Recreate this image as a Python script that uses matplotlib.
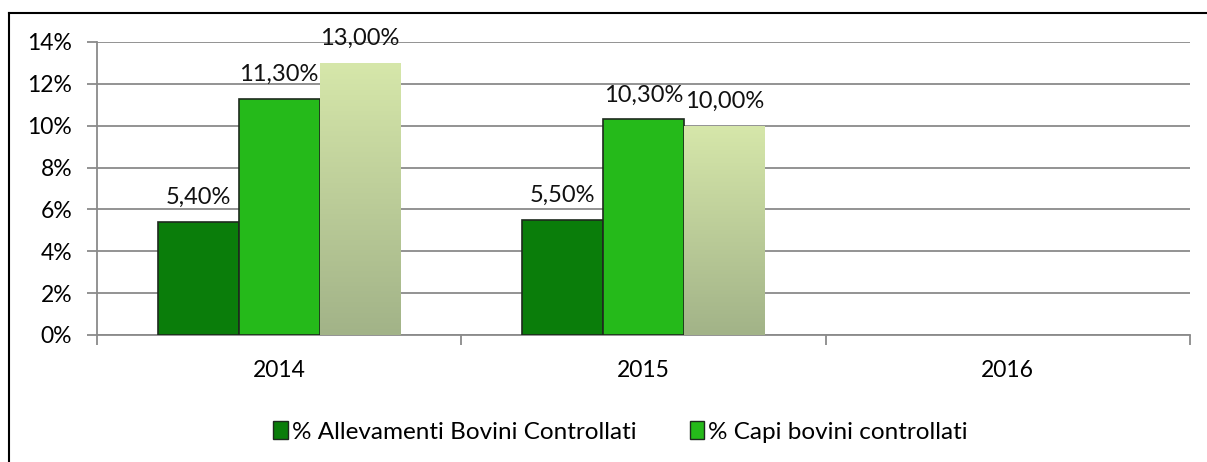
import numpy as np
import matplotlib.pyplot as plt
from matplotlib.patches import Patch
from matplotlib.ticker import FixedLocator, NullFormatter, FixedFormatter
from matplotlib.colors import LinearSegmentedColormap

plt.rcParams['font.family'] = ['Lato', 'DejaVu Sans']

# dati
anni = ["2014", "2015", "2016"]
allevamenti = [5.4, 5.5, np.nan]
capi = [11.3, 10.3, np.nan]
terza_serie = [13.0, 10.0, np.nan]
etichette_y = ["0%", "2%", "4%", "6%", "8%", "10%", "12%", "14%"]

GRID = "#8A8A8A"
EDGE = "#1E2A1E"

fig = plt.figure(figsize=(12.07, 4.62), dpi=100)
ax = fig.add_axes([0.0804, 0.2749, 0.9055, 0.6342])

x = np.arange(len(anni))
w = 0.222

b1 = ax.bar(x - w, allevamenti, w, color="#0A7D0A", edgecolor=EDGE, linewidth=1.2, zorder=3)
b2 = ax.bar(x, capi, w, color="#25BA1A", edgecolor=EDGE, linewidth=1.2, zorder=3)
b3 = ax.bar(x + w, terza_serie, w, color="#C2D5A0", edgecolor="none", zorder=3)

# sfumatura sulla terza serie
grad = np.linspace(0, 1, 100).reshape(-1, 1)
cmap = LinearSegmentedColormap.from_list("g", ["#A2B388", "#D6E7AA"])
for r in b3:
    if np.isnan(r.get_height()):
        continue
    x0, y0 = r.get_x(), r.get_y()
    im = ax.imshow(grad, extent=[x0, x0 + r.get_width(), y0, y0 + r.get_height()],
                   origin="lower", cmap=cmap, aspect="auto", zorder=3.5)
    im.set_clip_path(r)

ax.set_xlim(-0.5, 2.5)
ax.set_ylim(0, 14)

for bars, vals in [(b1, allevamenti), (b2, capi), (b3, terza_serie)]:
    for r, v in zip(bars, vals):
        if np.isnan(v):
            continue
        ax.text(r.get_x() + r.get_width() / 2, v + 0.85, f"{v:.2f}%".replace(".", ","),
                ha="center", va="baseline", fontsize=17, color="#111111", zorder=5)

ax.set_yticks(np.arange(0, 15, 2))
ax.set_yticklabels(etichette_y)
ax.grid(axis="y", color=GRID, linewidth=1.3, zorder=0)
ax.tick_params(axis="y", length=7, color=GRID, width=1.3, labelsize=16.5, pad=11)

ax.xaxis.set_major_locator(FixedLocator([-0.5, 0.5, 1.5, 2.5]))
ax.xaxis.set_major_formatter(NullFormatter())
ax.xaxis.set_minor_locator(FixedLocator(x))
ax.xaxis.set_minor_formatter(FixedFormatter(anni))
ax.tick_params(axis="x", which="major", length=7, color=GRID, width=1.3)
ax.tick_params(axis="x", which="minor", length=0, labelsize=16.5, pad=18)

for s in ["top", "right"]:
    ax.spines[s].set_visible(False)
for s in ["left", "bottom"]:
    ax.spines[s].set_color(GRID)
    ax.spines[s].set_linewidth(1.3)

handles = [Patch(facecolor="#0A7D0A", edgecolor=EDGE),
           Patch(facecolor="#25BA1A", edgecolor=EDGE)]
fig.legend(handles, ["% Allevamenti Bovini Controllati", "% Capi bovini controllati"],
           loc="center", bbox_to_anchor=(0.514, 0.065), ncol=2, frameon=False,
           fontsize=17.5, handlelength=0.6, handleheight=0.75, handletextpad=0.15,
           columnspacing=2.2)

# cornice
fig.add_artist(plt.Line2D([9 / 1207, 9 / 1207], [0, 1 - 13 / 462], color="black", linewidth=1.5))
fig.add_artist(plt.Line2D([9 / 1207, 1], [1 - 13 / 462, 1 - 13 / 462], color="black", linewidth=1.5))

fig.savefig("out.png", dpi=100)
